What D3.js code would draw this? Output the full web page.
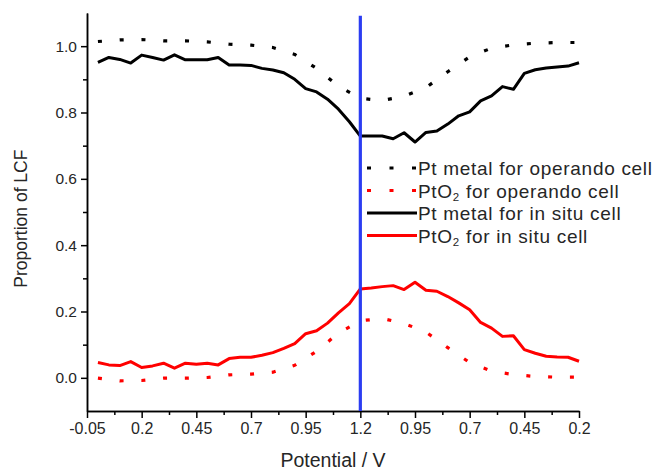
<!DOCTYPE html>
<html>
<head>
<meta charset="utf-8">
<script src="https://cdn.jsdelivr.net/npm/d3@7"></script>
<style>
  body { margin: 0; background: #fff; }
  svg { display: block; font-family: "Liberation Sans", Arial, sans-serif; }
  .axis path, .axis line { stroke: #000; stroke-width: 1.5; }
  .axis text { fill: #262626; }
</style>
</head>
<body>
<div id="chart"></div>
<script>

// Chart size
var svgWidth = 656;
var svgHeight = 471;

// Potentials of each measured point (forward sweep up to 1.2 V, then back down)
var insituE = [0.00, 0.05, 0.10, 0.15, 0.20, 0.25, 0.30, 0.35, 0.40, 0.45, 0.50, 0.55, 0.60,
  0.65, 0.70, 0.75, 0.80, 0.85, 0.90, 0.95, 1.00, 1.05, 1.10, 1.15, 1.20,
  1.15, 1.10, 1.05, 1.00, 0.95, 0.90, 0.85, 0.80, 0.75, 0.70, 0.65, 0.60, 0.55, 0.50,
  0.45, 0.40, 0.35, 0.30, 0.25, 0.20];
var operandoE = [0.0, 0.1, 0.2, 0.3, 0.4, 0.5, 0.6, 0.7, 0.8, 0.9, 1.0, 1.1, 1.2,
  1.1, 1.0, 0.9, 0.8, 0.7, 0.6, 0.5, 0.4, 0.3, 0.2];

// LCF proportions
var insituPt = [0.951, 0.966, 0.960, 0.949, 0.973, 0.966, 0.958, 0.974, 0.959, 0.959,
  0.959, 0.966, 0.943, 0.943, 0.942, 0.933, 0.928, 0.920, 0.900, 0.872,
  0.862, 0.840, 0.810, 0.772, 0.729,
  0.729, 0.729, 0.721, 0.739, 0.711, 0.740, 0.744, 0.765, 0.790, 0.802,
  0.835, 0.850, 0.878, 0.870, 0.918, 0.929, 0.934, 0.937, 0.940, 0.950];
var insituPtO2 = [0.046, 0.039, 0.037, 0.049, 0.031, 0.036, 0.044, 0.029, 0.044, 0.041,
  0.044, 0.039, 0.058, 0.062, 0.062, 0.068, 0.076, 0.089, 0.103, 0.133,
  0.142, 0.165, 0.196, 0.224, 0.268,
  0.271, 0.275, 0.278, 0.266, 0.288, 0.264, 0.261, 0.245, 0.226, 0.205,
  0.167, 0.150, 0.125, 0.127, 0.085, 0.074, 0.065, 0.063, 0.062, 0.050];
var operandoPt = [1.014, 1.019, 1.020, 1.016, 1.016, 1.013, 1.006, 1.003, 0.996, 0.975,
  0.933, 0.879, 0.843,
  0.836, 0.849, 0.875, 0.923, 0.968, 0.994, 1.004, 1.009, 1.011, 1.011];
var operandoPtO2 = [-0.001, -0.009, -0.008, -0.001, -0.001, 0.001, 0.009, 0.011, 0.017, 0.038,
  0.080, 0.135, 0.172,
  0.179, 0.164, 0.138, 0.091, 0.046, 0.020, 0.010, 0.004, 0.002, 0.002];

// Axis labels
var xTickLabels = ["-0.05", "0.2", "0.45", "0.7", "0.95", "1.2", "0.95", "0.7", "0.45", "0.2"];
var yTickValues = [0.0, 0.2, 0.4, 0.6, 0.8, 1.0];
var yMinorValues = [0.1, 0.3, 0.5, 0.7, 0.9];
var vertexE = 1.2;

// turns the potentials into distance along the sweep (starts at -0.05 V)
function sweep(E) {
  var top = E.indexOf(d3.max(E));
  return E.map(function (e, i) {
    return i <= top ? e + 0.05 : 2.45 - e;
  });
}

var svg = d3.select('#chart')
  .append('svg')
  .attr('width', svgWidth)
  .attr('height', svgHeight);

var x = d3.scaleLinear().domain([0, 2.25]).range([87, 579]);
var y = d3.scaleLinear().domain([-0.1, 1.1]).range([411, 13]);

// x axis: major + minor ticks
var xMajor = d3.range(0, 2.26, 0.25);
var xMinor = d3.range(0.125, 2.25, 0.25);

svg.append('g')
  .attr('class', 'axis')
  .attr('transform', 'translate(0,' + y(-0.1) + ')')
  .call(d3.axisBottom(x).tickValues(xMinor).tickSize(4).tickSizeOuter(0).tickFormat(''));

svg.append('g')
  .attr('class', 'axis')
  .attr('transform', 'translate(0,' + y(-0.1) + ')')
  .call(d3.axisBottom(x).tickValues(xMajor).tickSize(7).tickSizeOuter(0).tickPadding(5)
    .tickFormat(function (d, i) { return xTickLabels[i]; }))
  .selectAll('text')
  .style('font-size', '16px');

// y axis
svg.append('g')
  .attr('class', 'axis')
  .attr('transform', 'translate(' + x(0) + ',0)')
  .call(d3.axisLeft(y).tickValues(yMinorValues).tickSize(4).tickSizeOuter(0).tickFormat(''));

svg.append('g')
  .attr('class', 'axis')
  .attr('transform', 'translate(' + x(0) + ',0)')
  .call(d3.axisLeft(y).tickValues(yTickValues).tickSize(6).tickSizeOuter(0).tickPadding(4)
    .tickFormat(d3.format('.1f')))
  .selectAll('text')
  .style('font-size', '15.5px');

// axis titles
svg.append('text')
  .attr('x', (x(0) + x(2.25)) / 2)
  .attr('y', 467)
  .attr('text-anchor', 'middle')
  .style('font-size', '19.5px')
  .style('fill', '#262626')
  .text('Potential / V');

svg.append('text')
  .attr('transform', 'translate(27,' + y(0.48) + ') rotate(-90)')
  .attr('text-anchor', 'middle')
  .style('font-size', '17.5px')
  .style('fill', '#262626')
  .text('Proportion of LCF');

// series
var series = [
  { E: operandoE, v: operandoPt, color: '#000', dotted: true },
  { E: operandoE, v: operandoPtO2, color: '#f00', dotted: true },
  { E: insituE, v: insituPt, color: '#000', dotted: false },
  { E: insituE, v: insituPtO2, color: '#f00', dotted: false }
];

var line = d3.line()
  .x(function (d) { return x(d[0]); })
  .y(function (d) { return y(d[1]); });

series.forEach(function (s) {
  var sx = sweep(s.E);
  var pts = sx.map(function (d, i) { return [d, s.v[i]]; });
  svg.append('path')
    .datum(pts)
    .attr('d', line)
    .attr('fill', 'none')
    .attr('stroke', s.color)
    .attr('stroke-width', s.dotted ? 3.2 : 3)
    .attr('stroke-dasharray', s.dotted ? '4,17.8' : null)
    .attr('stroke-linejoin', 'round');
});

// vertex potential marker
svg.append('line')
  .attr('x1', x(vertexE + 0.05)).attr('x2', x(vertexE + 0.05))
  .attr('y1', y(1.092)).attr('y2', y(-0.1))
  .attr('stroke', '#2b3df2')
  .attr('stroke-width', 3.2);

// legend
var legendItems = [
  { name: 'Pt metal', sub: '', rest: ' for operando cell', color: '#000', dotted: true },
  { name: 'PtO', sub: '2', rest: ' for operando cell', color: '#f00', dotted: true },
  { name: 'Pt metal', sub: '', rest: ' for in situ cell', color: '#000', dotted: false },
  { name: 'PtO', sub: '2', rest: ' for in situ cell', color: '#f00', dotted: false }
];

var legend = svg.append('g').attr('transform', 'translate(367,168)');

legendItems.forEach(function (d, i) {
  var row = legend.append('g').attr('transform', 'translate(0,' + (i * 22.5) + ')');
  row.append('line')
    .attr('x1', 0).attr('x2', 50)
    .attr('stroke', d.color)
    .attr('stroke-width', 3.2)
    .attr('stroke-dasharray', d.dotted ? '4,18.5' : null);
  var t = row.append('text')
    .attr('x', 51)
    .attr('y', 7)
    .style('font-size', '19px')
    .style('letter-spacing', '0.7px')
    .style('fill', '#262626');
  t.append('tspan').text(d.name);
  if (d.sub) {
    t.append('tspan').attr('dy', 3).style('font-size', '11.5px').text(d.sub);
    t.append('tspan').attr('dy', -3).text(d.rest);
  } else {
    t.append('tspan').text(d.rest);
  }
});

</script>
</body>
</html>
